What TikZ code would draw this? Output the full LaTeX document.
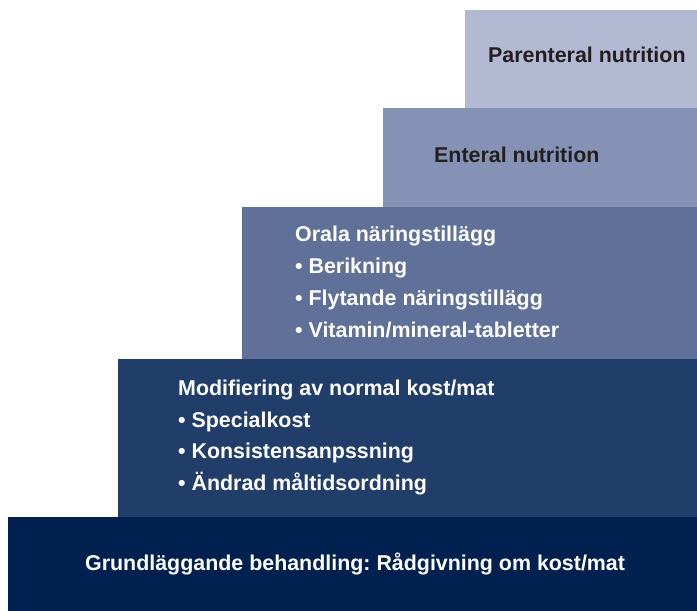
\documentclass[tikz,border=0pt]{standalone}
\usepackage{fontspec}
\setmainfont{Liberation Sans}
\frenchspacing
\definecolor{stepA}{HTML}{B3B8D3}
\definecolor{stepB}{HTML}{8592B5}
\definecolor{stepC}{HTML}{5F7099}
\definecolor{stepD}{HTML}{213D6A}
\definecolor{stepE}{HTML}{00204F}
\definecolor{darktext}{HTML}{231F20}
\tikzset{
  lbl/.style={anchor=base west, inner sep=0pt, font=\fontsize{21.4bp}{24bp}\selectfont\bfseries},
  lblw/.style={lbl, text=white},
  lbld/.style={lbl, text=darktext},
}
\begin{document}
\begin{tikzpicture}[x=1bp,y=-1bp]
\useasboundingbox (0,0) rectangle (697,611);
\fill[stepA] (465,10) rectangle (697,108);
\fill[stepB] (383,108) rectangle (697,207);
\fill[stepC] (242,207) rectangle (697,359);
\fill[stepD] (118,359) rectangle (697,517);
\fill[stepE] (8,517) rectangle (697,611);
\node[lbld] (p) at (488,62.5) {Parenteral nutrition};
\node[lbld] (e) at (434,163) {Enteral nutrition};
\node[lblw] (o1) at (295,241) {Orala näringstillägg};
\node[lblw] (o2) at (295,273) {• Berikning};
\node[lblw] (o3) at (295,305) {• Flytande näringstillägg};
\node[lblw] (o4) at (295,337) {• Vitamin/mineral-tabletter};
\node[lblw] (m1) at (178,395) {Modifiering av normal kost/mat};
\node[lblw] (m2) at (178,427) {• Specialkost};
\node[lblw] (m3) at (178,458) {• Konsistensanpssning};
\node[lblw] (m4) at (178,490) {• Ändrad måltidsordning};
\node[lblw] (g) at (85,570) {Grundläggande behandling: Rådgivning om kost/mat};
\end{tikzpicture}
\end{document}
